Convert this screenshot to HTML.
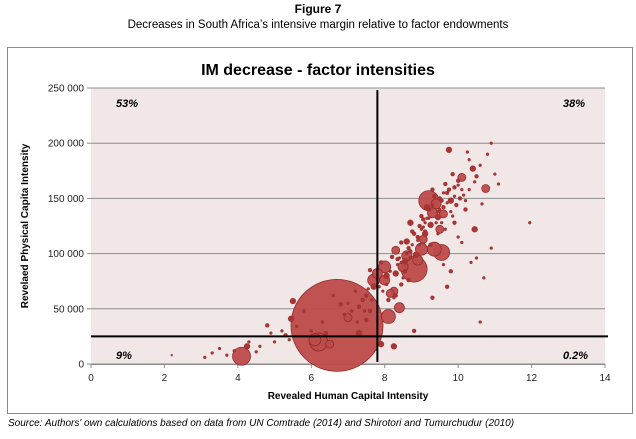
<!DOCTYPE html>
<html><head><meta charset="utf-8"><style>
body{margin:0;background:#fff;width:636px;height:434px;overflow:hidden;font-family:"Liberation Sans",sans-serif}
</style></head><body>
<svg width="636" height="434" xmlns="http://www.w3.org/2000/svg">
<text x="318" y="13" text-anchor="middle" font-size="12" font-weight="bold">Figure 7</text>
<text x="318" y="28" text-anchor="middle" font-size="11.5">Decreases in South Africa’s intensive margin relative to factor endowments</text>
<rect x="7.5" y="47.5" width="625" height="366" fill="#fff" stroke="#8a8a8a" stroke-width="1"/>
<text x="318" y="75" text-anchor="middle" font-size="16" font-weight="bold">IM decrease - factor intensities</text>
<rect x="91" y="88" width="514" height="276" fill="#f2e7e7"/>
<g id="grid"></g>
<g id="axes" font-size="10" fill="#222"></g>
<g id="marks"></g>
<g id="quad"></g>
<text x="348" y="399" text-anchor="middle" font-size="10" font-weight="bold">Revealed Human Capital Intensity</text>
<text transform="translate(28,226) rotate(-90)" text-anchor="middle" font-size="10" font-weight="bold">Revelaed Physical Capita Intensity</text>
<text x="116" y="107" font-size="11" font-weight="bold" font-style="italic">53%</text>
<text x="563" y="107" font-size="11" font-weight="bold" font-style="italic">38%</text>
<text x="116" y="359" font-size="11" font-weight="bold" font-style="italic">9%</text>
<text x="563" y="359" font-size="11" font-weight="bold" font-style="italic">0.2%</text>
<text x="8" y="426" font-size="10" font-style="italic">Source: Authors' own calculations based on data from UN Comtrade (2014) and Shirotori and Tumurchudur (2010)</text>
</svg>
<script>
const xTicks=[0,2,4,6,8,10,12,14];
const yTicks=[0,50000,100000,150000,200000,250000];
const yTickLabels=["0","50 000","100 000","150 000","200 000","250 000"];
const hcThreshold=7.8;
const pcThreshold=25000;
const pointsX=[6.7,4.1,9.2,8.8,9.55,9.35,8.1,8.0,7.7,7.8,8.4,8.3,8.6,9.05,9.5,10.1,10.75,10.45,9.75,10.4,8.25,8.15,8.0,8.5,8.9,9.3,9.6,9.4,8.7,8.6,9.0,8.25,7.9,8.8,5.5,5.45,4.25,6.2,6.1,6.5,7.3,7.0,5.3,4.8,
7.5,7.6,7.7,7.9,8.05,8.2,8.3,8.45,8.55,8.65,8.75,8.85,8.95,9.05,9.1,9.2,9.25,9.3,9.45,9.5,9.6,9.65,9.7,9.8,9.85,9.9,10.0,10.05,10.2,10.3,10.5,10.6,10.8,10.9,11.1,11.95,10.35,10.7,9.8,10.0,9.9,9.3,9.7,
8.9,9.0,9.1,9.15,9.25,9.35,9.45,9.55,9.75,9.95,10.15,10.25,8.35,8.45,8.55,8.65,8.7,8.8,7.4,7.3,7.2,7.1,7.0,6.9,6.6,6.3,6.0,5.8,5.6,5.4,5.2,5.0,4.9,4.6,4.5,4.3,3.9,3.7,3.5,3.3,3.1,2.2,6.4,6.8,7.5,7.6,8.1,8.3,9.6,10.1,10.5,10.9,11.0,10.6,
8.05,8.15,8.35,8.5,8.6,8.75,8.9,9.0,9.1,9.2,9.3,9.4,9.5,9.6,9.7,9.8,9.9,10.0,10.1,10.2,9.55,9.45,9.15,8.95,8.4,8.25,7.95,7.85,7.65,7.55,9.65,9.85,10.3,10.45,10.65,9.05,8.7,8.45,7.25,7.45];
const pointsY=[35000,7000,148000,86000,101000,104000,43000,88000,76000,82000,51000,103000,98000,113000,122000,169000,159000,122000,194000,177000,66000,64000,76000,88000,94000,137000,136000,145000,128000,111000,104000,16000,18000,30000,57000,41000,16000,20000,22000,18000,28000,42000,26000,35000,
62000,85000,70000,92000,80000,97000,82000,110000,93000,105000,120000,99000,125000,131000,118000,140000,126000,158000,133000,150000,142000,163000,155000,148000,172000,160000,166000,150000,140000,185000,170000,180000,190000,200000,163000,128000,92000,78000,84000,115000,128000,60000,70000,
115000,134000,120000,142000,108000,152000,138000,148000,158000,144000,153000,192000,95000,72000,84000,76000,102000,118000,58000,52000,66000,48000,55000,45000,62000,38000,30000,48000,34000,22000,30000,20000,28000,16000,11000,20000,12000,8000,14000,10000,6000,8000,28000,54000,40000,48000,58000,62000,90000,110000,96000,105000,172000,38000,
72000,84000,90000,78000,100000,108000,112000,122000,128000,132000,144000,128000,140000,155000,146000,138000,152000,162000,158000,148000,128000,118000,132000,108000,96000,60000,66000,70000,58000,68000,122000,134000,158000,165000,145000,124000,96000,92000,38000,48000];
const pointsR=[46,9,10,13,8,7,7,6,6,5,5,4,5,4,4,4,4,3,3,3,4,4,5,5,5,5,4,5,3,3,6,3,3,2,3,3,3,9,6,4,3,4,2,2,
2,2,3,2,3,2,3,2,3,2,2,3,2,2,3,2,3,2,3,2,2,2,2,3,2,2,2,2,2,1.5,2,1.5,1.5,1.5,1.5,1.5,1.5,1.5,2,1.5,2,2,2,
2,2,2,3,2,2,2,2,2,2,1.5,1.5,2,2,2,2,2,2,2,2,1.5,1.5,1.5,1.5,1.5,1.5,1.5,1.5,1.5,1.5,1.5,1.5,1.5,1.5,1.5,1.5,1.5,1.5,1.5,1.5,1.5,1,2,2,2,2,2,2,1.5,1.5,1.5,1.5,1.5,1.5,
1.5,1.5,1.5,1.5,1.5,1.5,1.5,1.5,1.5,1.5,1.5,1.5,1.5,1.5,1.5,1.5,1.5,1.5,1.5,1.5,1.5,1.5,1.5,1.5,1.5,1.5,1.5,1.5,1.5,1.5,1.5,1.5,1.5,1.5,1.5,1.5,1.5,1.5,1.5,1.5];
const NS="http://www.w3.org/2000/svg";
const X0=91,X1=605,Y0=364,Y1=88;
function sx(v){return X0+(v-0)/14*(X1-X0);}
function sy(v){return Y0-(v/250000)*(Y0-Y1);}
function mk(tag,attrs,parent){const e=document.createElementNS(NS,tag);for(const k in attrs)e.setAttribute(k,attrs[k]);parent.appendChild(e);return e;}
const grid=document.getElementById('grid'),axes=document.getElementById('axes'),marks=document.getElementById('marks'),quad=document.getElementById('quad');
yTicks.forEach((t,i)=>{
  const y=sy(t);
  const g=mk('line',{x1:X0,x2:X1,y1:y,y2:y,stroke:'#8c8c8c','stroke-width':1},grid);
  
  
  const tk=mk('line',{x1:X0-4,x2:X0,y1:y,y2:y,stroke:'#8c8c8c'},axes);
  
  
  const tx=mk('text',{x:X0-7,y:y+3.5,'text-anchor':'end'},axes);
  tx.textContent=yTickLabels[i];
  
  
});
const ax=mk('line',{x1:X0,x2:X1,y1:Y0+0.5,y2:Y0+0.5,stroke:'#8c8c8c'},axes);


xTicks.forEach(t=>{
  const x=sx(t);
  const tk=mk('line',{x1:x,x2:x,y1:Y0,y2:Y0+4,stroke:'#8c8c8c'},axes);
  
  
  const tx=mk('text',{x:x,y:Y0+17,'text-anchor':'middle'},axes);
  tx.textContent=String(t);
  
  
});
pointsX.forEach((v,i)=>{
  const r=pointsR[i];
  const c=mk('circle',{cx:sx(v),cy:sy(pointsY[i]),r:r,fill:r>3?'#bd4b4a':'#a83534','fill-opacity':r>3?0.95:1,stroke:'#8e2b2b','stroke-width':r>3?0.8:0.3},marks);
  
  
});
const vl=mk('line',{x1:sx(hcThreshold),x2:sx(hcThreshold),y1:90,y2:362,stroke:'#000','stroke-width':2},quad);


const hl=mk('line',{x1:X0,x2:X1+3,y1:sy(pcThreshold),y2:sy(pcThreshold),stroke:'#000','stroke-width':2},quad);


</script>
</body></html>
